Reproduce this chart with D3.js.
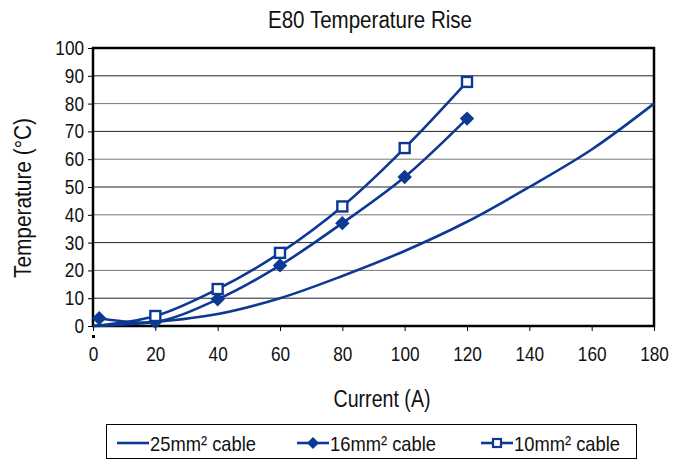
<!DOCTYPE html>
<html>
<head>
<meta charset="utf-8">
<script src="https://cdn.jsdelivr.net/npm/d3@7"></script>
<style>
  body { margin: 0; background: #fff; }
  text { font-family: "Liberation Sans", Arial, sans-serif; fill: #111; }
</style>
</head>
<body>
<svg id="chart" width="673" height="460"></svg>
<script>
// chart data
var xTicks = [0, 20, 40, 60, 80, 100, 120, 140, 160, 180];
var yTicks = [0, 10, 20, 30, 40, 50, 60, 70, 80, 90, 100];

var cur25 = [0, 20, 40, 60, 80, 100, 120, 140, 160, 180];
var temp25 = [0, 1.4, 4.3, 10, 18, 27, 37.5, 50, 63.5, 80];

var cur16 = [2, 20, 40, 60, 80, 100, 120];
var temp16 = [2.8, 1.5, 9.6, 21.8, 37, 53.6, 74.6];

var cur10 = [0, 20, 40, 60, 80, 100, 120];
var temp10 = [0, 3.6, 13.3, 26.3, 43, 64, 87.8];

var seriesNames = ["25mm\u00B2 cable", "16mm\u00B2 cable", "10mm\u00B2 cable"];

var blue = "#0d3894";
var svg = d3.select("#chart");
var pLeft = 93, pRight = 654, pTop = 48, pBottom = 326;

var x = d3.scaleLinear().domain([0, 180]).range([pLeft, pRight]);
var y = d3.scaleLinear().domain([0, 100]).range([pBottom, pTop]);

// no narrow font installed, so squeeze the text a bit
function narrow(sel, k) {
  sel.each(function(){
    var w = this.getComputedTextLength();
    d3.select(this).attr("textLength", w * k).attr("lengthAdjust", "spacingAndGlyphs");
  });
}

// title
svg.append("text")
  .attr("x", 370).attr("y", 28)
  .attr("text-anchor", "middle")
  .style("font-size", "23px")
  .attr("textLength", 204).attr("lengthAdjust", "spacingAndGlyphs")
  .text("E80 Temperature Rise");

// gridlines
svg.append("g").selectAll("line")
  .data(yTicks.slice(1))
  .enter().append("line")
  .attr("x1", pLeft).attr("x2", pRight)
  .attr("y1", function(d){ return y(d); })
  .attr("y2", function(d){ return y(d); })
  .attr("stroke", function(d, i){ return i % 2 ? "#777" : "#222"; })
  .attr("stroke-width", 1);

// frame
svg.append("rect")
  .attr("x", pLeft).attr("y", pTop)
  .attr("width", pRight - pLeft).attr("height", pBottom - pTop)
  .attr("fill", "none").attr("stroke", "#000").attr("stroke-width", 2.5);

// axes
var xAxis = svg.append("g")
  .attr("transform", "translate(0," + pBottom + ")")
  .call(d3.axisBottom(x).tickValues(xTicks).tickSize(5).tickPadding(16));
var yAxis = svg.append("g")
  .attr("transform", "translate(" + pLeft + ",0)")
  .call(d3.axisLeft(y).tickValues(yTicks).tickSize(5).tickPadding(4));
[xAxis, yAxis].forEach(function(a){
  a.select(".domain").remove();
  a.selectAll(".tick line").attr("stroke", "#000");
  a.selectAll("text").style("font-size", "20px")
    .style("font-family", "'Liberation Sans', Arial, sans-serif").attr("fill", "#111");
  narrow(a.selectAll("text"), 0.86);
});

// little stray mark under the origin
svg.append("rect")
  .attr("x", x(0) - 1).attr("y", pBottom + 9)
  .attr("width", 3).attr("height", 3).attr("fill", "#000");

// axis titles
svg.append("text")
  .attr("x", 382).attr("y", 407)
  .attr("text-anchor", "middle")
  .style("font-size", "23px")
  .attr("textLength", 97).attr("lengthAdjust", "spacingAndGlyphs")
  .text("Current (A)");
svg.append("text")
  .attr("transform", "translate(31,198) rotate(-90)")
  .attr("text-anchor", "middle")
  .style("font-size", "23px")
  .attr("textLength", 160).attr("lengthAdjust", "spacingAndGlyphs")
  .text("Temperature (\u00B0C)");

// lines
var line = d3.line()
  .x(function(d){ return x(d[0]); })
  .y(function(d){ return y(d[1]); })
  .curve(d3.curveCatmullRom.alpha(0.5));

var d25 = d3.zip(cur25, temp25);
var d16 = d3.zip(cur16, temp16);
var d10 = d3.zip(cur10, temp10);

var plot = svg.append("g");
[d25, d16, d10].forEach(function(data){
  plot.append("path")
    .datum(data)
    .attr("d", line)
    .attr("fill", "none")
    .attr("stroke", blue)
    .attr("stroke-width", 2.6);
});

// markers: diamond = square turned 45deg
var diamond = d3.symbol().type(d3.symbolSquare).size(104);
var smallDiamond = d3.symbol().type(d3.symbolSquare).size(72);
plot.selectAll(".dia")
  .data(d16)
  .enter().append("path")
  .attr("class", "dia")
  .attr("d", diamond)
  .attr("transform", function(d){ return "translate(" + x(d[0]) + "," + y(d[1]) + ") rotate(45)"; })
  .attr("fill", blue);

plot.selectAll(".sq")
  .data(d10.slice(1))
  .enter().append("rect")
  .attr("class", "sq")
  .attr("x", function(d){ return x(d[0]) - 5; })
  .attr("y", function(d){ return y(d[1]) - 5; })
  .attr("width", 10).attr("height", 10)
  .attr("fill", "#fff").attr("stroke", blue).attr("stroke-width", 2.4);

// legend
var lg = svg.append("g");
lg.append("rect")
  .attr("x", 106.5).attr("y", 424.5)
  .attr("width", 530).attr("height", 34)
  .attr("fill", "#fff").attr("stroke", "#000").attr("stroke-width", 1);

var legX = [117, 297, 481];
seriesNames.forEach(function(name, i){
  var g = lg.append("g").attr("transform", "translate(" + legX[i] + ",443)");
  g.append("line").attr("x1", 0).attr("x2", 32)
    .attr("stroke", blue).attr("stroke-width", 2.6);
  if (i === 1) {
    g.append("path").attr("d", smallDiamond)
      .attr("transform", "translate(16,0) rotate(45)").attr("fill", blue);
  }
  if (i === 2) {
    g.append("rect").attr("x", 12).attr("y", -4).attr("width", 8).attr("height", 8)
      .attr("fill", "#fff").attr("stroke", blue).attr("stroke-width", 2.2);
  }
  g.append("text").attr("x", 33).attr("y", 7.5)
    .style("font-size", "21px")
    .attr("textLength", 106).attr("lengthAdjust", "spacingAndGlyphs")
    .text(name);
});
</script>
</body>
</html>
